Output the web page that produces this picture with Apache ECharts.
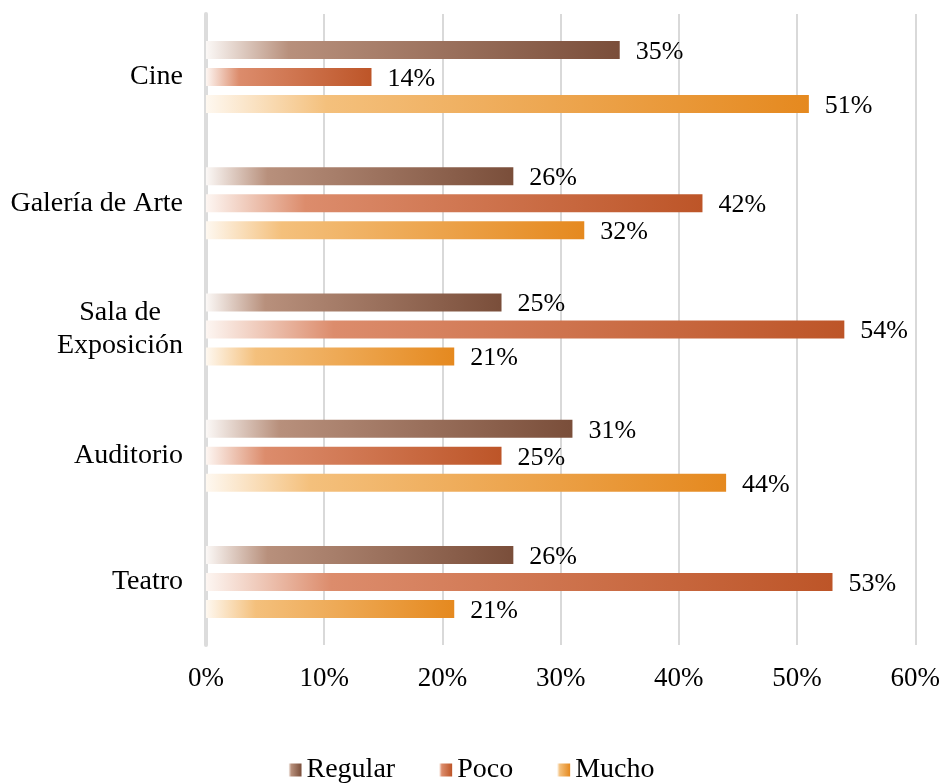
<!DOCTYPE html>
<html>
<head>
<meta charset="utf-8">
<style>
  html, body { margin: 0; padding: 0; background: #fff; }
  #chart { width: 943px; height: 783px; }
</style>
<script src="https://cdn.jsdelivr.net/npm/echarts@6/dist/echarts.min.js"></script>
</head>
<body>
<div id="chart"></div>
<script>
// datos
const categorias = ['Cine', 'Galería de Arte', 'Sala de\nExposición', 'Auditorio', 'Teatro']
const regular = [35, 26, 25, 31, 26]
const poco = [14, 42, 54, 25, 53]
const mucho = [51, 32, 21, 44, 21]
const ticksX = [0, 10, 20, 30, 40, 50, 60]

const fuente = '"Liberation Serif", "DejaVu Serif", serif'

// degradado blanco -> color, como en Excel
function degradado(claro, medio, oscuro) {
  return new echarts.graphic.LinearGradient(0, 0, 1, 0, [
    { offset: 0, color: claro },
    { offset: 0.2, color: medio },
    { offset: 1, color: oscuro }
  ])
}

const colores = {
  Regular: degradado('#fbf8f6', '#b8907c', '#7a4e3a'),
  Poco: degradado('#fdf6f2', '#dc8c6c', '#bd5528'),
  Mucho: degradado('#fef8f0', '#f4c07c', '#e5891f')
}

function serie(nombre, datos) {
  return {
    name: nombre,
    type: 'bar',
    data: datos,
    barWidth: 18,
    barGap: '50%',
    itemStyle: { color: colores[nombre] },
    label: {
      show: true,
      position: 'right',
      distance: 16,
      offset: [0, 2],
      formatter: '{c}%',
      color: '#000',
      fontFamily: fuente,
      fontSize: 26
    }
  }
}

const chart = echarts.init(document.getElementById('chart'))
chart.setOption({
  animation: false,
  grid: { left: 206, right: 26, top: 14, bottom: 138, containLabel: false },
  legend: {
    top: 751,
    left: 'center',
    itemWidth: 13,
    itemHeight: 13,
    itemGap: 44,
    icon: 'rect',
    textStyle: { fontFamily: fuente, fontSize: 28, color: '#000' },
    data: ['Regular', 'Poco', 'Mucho']
  },
  xAxis: {
    type: 'value',
    min: 0,
    max: 60,
    interval: 10,
    axisLine: { show: false },
    axisTick: { show: false },
    splitLine: { lineStyle: { color: '#d9d9d9', width: 2 } },
    axisLabel: {
      margin: 20,
      formatter: v => (ticksX.indexOf(v) >= 0 ? v + '%' : ''),
      fontFamily: fuente,
      fontSize: 27,
      color: '#000'
    }
  },
  yAxis: {
    type: 'category',
    inverse: true,
    data: categorias,
    axisTick: { show: false },
    axisLine: { show: true, lineStyle: { color: '#dcdcdc', width: 4 } },
    axisLabel: {
      margin: 23,
      fontFamily: fuente,
      fontSize: 28,
      color: '#000',
      lineHeight: 33,
      formatter: v => (v.indexOf('\n') >= 0 ? v.split('\n').map(l => '{c|' + l + '}').join('\n') : v),
      rich: {
        c: { width: 126, align: 'center', fontFamily: fuente, fontSize: 28, color: '#000', lineHeight: 33 }
      }
    }
  },
  series: [serie('Regular', regular), serie('Poco', poco), serie('Mucho', mucho)]
})
</script>
</body>
</html>
